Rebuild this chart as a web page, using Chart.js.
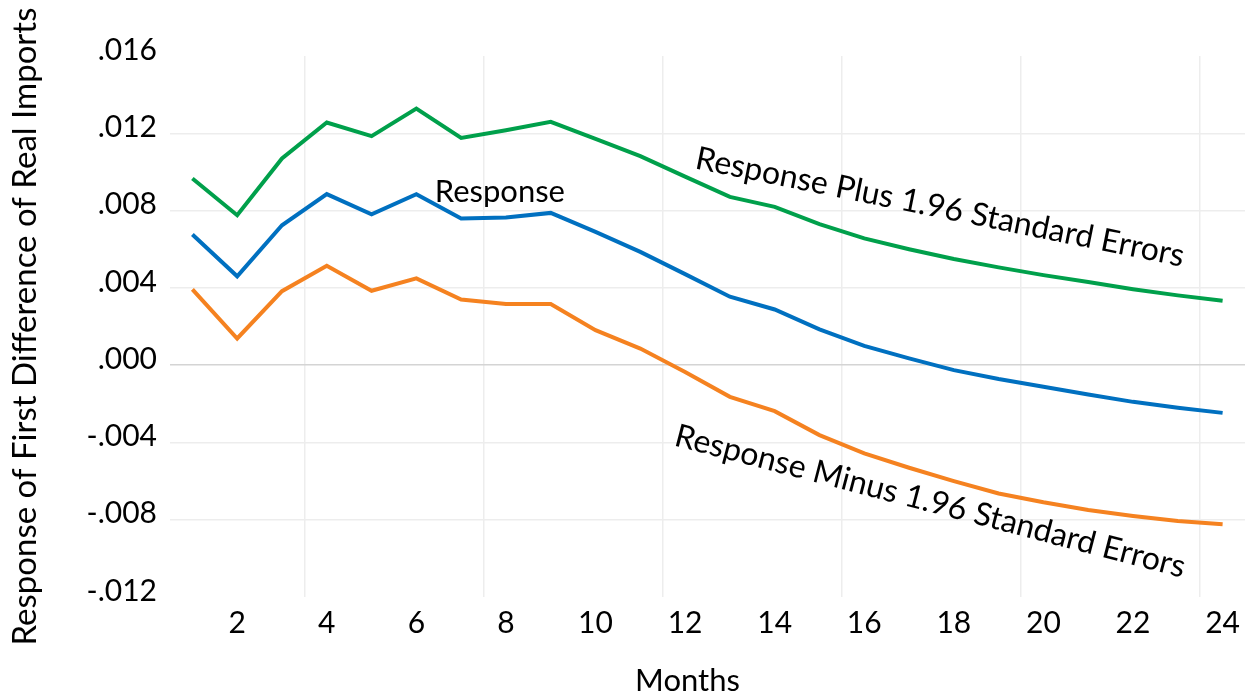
<!DOCTYPE html>
<html>
<head>
<meta charset="utf-8">
<script src="https://cdn.jsdelivr.net/npm/chart.js@4.4.0/dist/chart.umd.min.js"></script>
<style>
  html, body { margin: 0; padding: 0; background: #fff; }
  #wrap { width: 1252px; height: 697px; }
</style>
</head>
<body>
<div id="wrap"><canvas id="irf" width="1252" height="697"></canvas></div>
<script>
const months = [1, 2, 3, 4, 5, 6, 7, 8, 9, 10, 11, 12, 13, 14, 15, 16, 17, 18, 19, 20, 21, 22, 23, 24];
const xTickLabels = ['', '2', '', '4', '', '6', '', '8', '', '10', '', '12', '', '14', '', '16', '', '18', '', '20', '', '22', '', '24'];

const yTickValues = [-0.012, -0.008, -0.004, 0, 0.004, 0.008, 0.012, 0.016];
const yTickLabels = ['-.012', '-.008', '-.004', '.000', '.004', '.008', '.012', '.016'];

const responsePlus = [0.00966, 0.00776, 0.0107, 0.01256, 0.01185, 0.01328, 0.01176, 0.01216, 0.01259, 0.01171, 0.01082, 0.00976,
    0.00871, 0.00819, 0.0073, 0.00656, 0.006, 0.00549, 0.00506, 0.00466, 0.0043, 0.00393, 0.00361, 0.00333];
const response = [0.00676, 0.0046, 0.00724, 0.00885, 0.00781, 0.00885, 0.00759, 0.00764, 0.00788, 0.0069, 0.00586, 0.00471,
    0.00354, 0.00288, 0.00185, 0.001, 0.00035, -0.00026, -0.00072, -0.00112, -0.00152, -0.0019, -0.00221, -0.00247];
const responseMinus = [0.00392, 0.00138, 0.00383, 0.00514, 0.00385, 0.00449, 0.0034, 0.00316, 0.00316, 0.00181, 0.00086, -0.00035,
    -0.00164, -0.00238, -0.00362, -0.00457, -0.00531, -0.006, -0.00664, -0.0071, -0.0075, -0.00781, -0.00807, -0.00824];

const green = '#00a04b';
const blue = '#0070c0';
const orange = '#f58220';

// text labels placed next to the lines (at = category index, value = y value of the baseline start)
const seriesNotes = [
    { text: 'Response', at: 5.41, value: 0.00843, angle: 0, size: 31 },
    { text: 'Response Plus 1.96 Standard Errors', at: 11.2, value: 0.01019, angle: 11.4, size: 32 },
    { text: 'Response Minus 1.96 Standard Errors', at: 10.73, value: -0.00414, angle: 14.6, size: 32 }
];

Chart.defaults.font.family = 'Lato';
Chart.defaults.color = '#000';

const lineLabels = {
    id: 'lineLabels',
    afterDatasetsDraw(chart) {
        const { ctx, chartArea, scales } = chart;
        ctx.save();
        ctx.fillStyle = '#000';
        ctx.textBaseline = 'alphabetic';
        ctx.textAlign = 'left';
        seriesNotes.forEach(n => {
            ctx.save();
            ctx.font = n.size + 'px Lato';
            ctx.translate(scales.x.getPixelForValue(n.at), scales.y.getPixelForValue(n.value));
            ctx.rotate(n.angle * Math.PI / 180);
            ctx.fillText(n.text, 0, 0);
            ctx.restore();
        });
        // axis title, sits a bit left of the plot centre like the original
        ctx.font = '31px Lato';
        ctx.textAlign = 'center';
        ctx.fillText('Months', (chartArea.left + chartArea.right) / 2 - 20, chartArea.bottom + 94);
        ctx.restore();
    }
};

function makeLine(label, values, color) {
    return {
        label: label,
        data: values,
        borderColor: color,
        backgroundColor: color,
        borderWidth: 4,
        pointRadius: 0,
        tension: 0,
        fill: false
    };
}

new Chart(document.getElementById('irf'), {
    type: 'line',
    data: {
        labels: months,
        datasets: [
            makeLine('Response Plus 1.96 Standard Errors', responsePlus, green),
            makeLine('Response', response, blue),
            makeLine('Response Minus 1.96 Standard Errors', responseMinus, orange)
        ]
    },
    options: {
        responsive: false,
        devicePixelRatio: 1,
        animation: false,
        layout: {
            padding: { top: 56, right: 7, left: 0, bottom: 0 }
        },
        plugins: {
            legend: { display: false },
            tooltip: { enabled: false }
        },
        scales: {
            x: {
                type: 'category',
                offset: true,
                border: { display: false },
                grid: {
                    offset: true,
                    drawTicks: false,
                    lineWidth: 1.5,
                    color: c => (c.index % 4 === 3 ? '#ededed' : 'rgba(0,0,0,0)')
                },
                ticks: {
                    autoSkip: false,
                    maxRotation: 0,
                    padding: 8,
                    font: { size: 30 },
                    callback: (val, i) => xTickLabels[i]
                },
                afterFit: scale => { scale.height = 100; }
            },
            y: {
                min: -0.012,
                max: 0.016,
                border: { display: false },
                grid: {
                    drawTicks: false,
                    lineWidth: 1.5,
                    color: c => {
                        if (!c.tick) return 'rgba(0,0,0,0)';
                        if (c.tick.value === 0) return '#d4d4d4';
                        if (c.index === 0 || c.index === yTickValues.length - 1) return 'rgba(0,0,0,0)';
                        return '#ededed';
                    }
                },
                afterBuildTicks: scale => {
                    scale.ticks = yTickValues.map(v => ({ value: v }));
                },
                ticks: {
                    padding: 13,
                    labelOffset: -6,
                    font: { size: 30 },
                    callback: (val, i) => yTickLabels[i]
                },
                title: {
                    display: true,
                    text: 'Response of First Difference of Real Imports',
                    font: { size: 33 },
                    padding: { top: 6, bottom: 0 }
                },
                afterFit: scale => { scale.width = 170; }
            }
        }
    },
    plugins: [lineLabels]
});
</script>
</body>
</html>
